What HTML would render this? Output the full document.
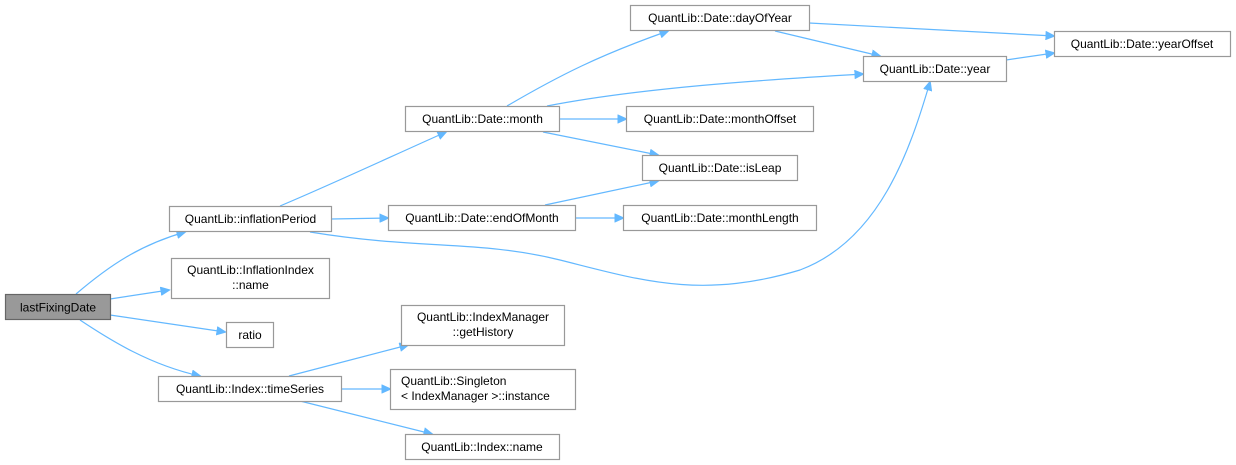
<!DOCTYPE html>
<html><head><meta charset="utf-8"><style>
body{margin:0;background:#fff;}
svg{display:block;}
text{font-family:"Liberation Sans",Arial,sans-serif;font-size:12px;fill:#000;}
.n rect{fill:#fff;stroke:#999;stroke-width:1.2;}
.e{fill:none;stroke:#63b8ff;stroke-width:1.2;}
</style></head><body>
<svg width="1236" height="465" viewBox="0 0 1236 465" xmlns="http://www.w3.org/2000/svg">
<defs><marker id="a" viewBox="0 0 10 10" refX="9" refY="5" markerWidth="10" markerHeight="9" markerUnits="userSpaceOnUse" orient="auto"><path d="M0,0.5 L10,5 L0,9.5 z" fill="#63b8ff" stroke="#63b8ff"/></marker></defs>
<g class="e">
<path d="M76,294 C110,265 140,245 185,232" marker-end="url(#a)"/>
<path d="M110,299 L169,290" marker-end="url(#a)"/>
<path d="M110,315 L225,332" marker-end="url(#a)"/>
<path d="M80,320 C110,340 150,365 200,376" marker-end="url(#a)"/>
<path d="M280,206 C330,185 390,157 446,132" marker-end="url(#a)"/>
<path d="M331,219 L388,218" marker-end="url(#a)"/>
<path d="M310,232 C420,250 480,240 560,260 C640,280 700,300 800,270 C880,240 910,150 930,82" marker-end="url(#a)"/>
<path d="M507,106 C560,75 600,55 668,31" marker-end="url(#a)"/>
<path d="M547,106 C640,88 760,80 863,74" marker-end="url(#a)"/>
<path d="M559,119 L626,119" marker-end="url(#a)"/>
<path d="M543,132 L658,155" marker-end="url(#a)"/>
<path d="M545,205 L658,181" marker-end="url(#a)"/>
<path d="M576,218 L623,218" marker-end="url(#a)"/>
<path d="M809,23 L1054,36" marker-end="url(#a)"/>
<path d="M775,31 L880,56" marker-end="url(#a)"/>
<path d="M1006,60 L1054,53" marker-end="url(#a)"/>
<path d="M289,376 L408,345" marker-end="url(#a)"/>
<path d="M341,389 L390,389" marker-end="url(#a)"/>
<path d="M300,401 L432,434" marker-end="url(#a)"/>
</g>
<g class="n">
<rect x="5.5" y="294.5" width="105" height="25" style="fill:#999;stroke:#666"/><text x="58" y="311.5" text-anchor="middle">lastFixingDate</text>
<rect x="169.5" y="206.5" width="162" height="25"/><text x="250.5" y="223" text-anchor="middle">QuantLib::inflationPeriod</text>
<rect x="171.5" y="258.5" width="158" height="40"/><text x="250.5" y="274" text-anchor="middle">QuantLib::InflationIndex</text><text x="250.5" y="289" text-anchor="middle">::name</text>
<rect x="226.5" y="322.5" width="47" height="25"/><text x="250" y="339" text-anchor="middle">ratio</text>
<rect x="158.5" y="376.5" width="183" height="25"/><text x="250" y="393" text-anchor="middle">QuantLib::Index::timeSeries</text>
<rect x="405.5" y="106.5" width="154" height="25"/><text x="482.5" y="123" text-anchor="middle">QuantLib::Date::month</text>
<rect x="388.5" y="205.5" width="187" height="25"/><text x="482" y="222" text-anchor="middle">QuantLib::Date::endOfMonth</text>
<rect x="630.5" y="5.5" width="179" height="25"/><text x="720" y="22" text-anchor="middle">QuantLib::Date::dayOfYear</text>
<rect x="626.5" y="106.5" width="187" height="25"/><text x="720" y="123" text-anchor="middle">QuantLib::Date::monthOffset</text>
<rect x="642.5" y="155.5" width="155" height="25"/><text x="720" y="172" text-anchor="middle">QuantLib::Date::isLeap</text>
<rect x="623.5" y="205.5" width="193" height="25"/><text x="720" y="222" text-anchor="middle">QuantLib::Date::monthLength</text>
<rect x="863.5" y="56.5" width="143" height="25"/><text x="935" y="73" text-anchor="middle">QuantLib::Date::year</text>
<rect x="1054.5" y="31.5" width="176" height="25"/><text x="1142" y="48" text-anchor="middle">QuantLib::Date::yearOffset</text>
<rect x="401.5" y="305.5" width="163" height="40"/><text x="483" y="321" text-anchor="middle">QuantLib::IndexManager</text><text x="483" y="336" text-anchor="middle">::getHistory</text>
<rect x="390.5" y="369.5" width="185" height="40"/><text x="401" y="385">QuantLib::Singleton</text><text x="401" y="400">&lt; IndexManager &gt;::instance</text>
<rect x="405.5" y="434.5" width="154" height="25"/><text x="482" y="451" text-anchor="middle">QuantLib::Index::name</text>
</g>
</svg>
</body></html>
